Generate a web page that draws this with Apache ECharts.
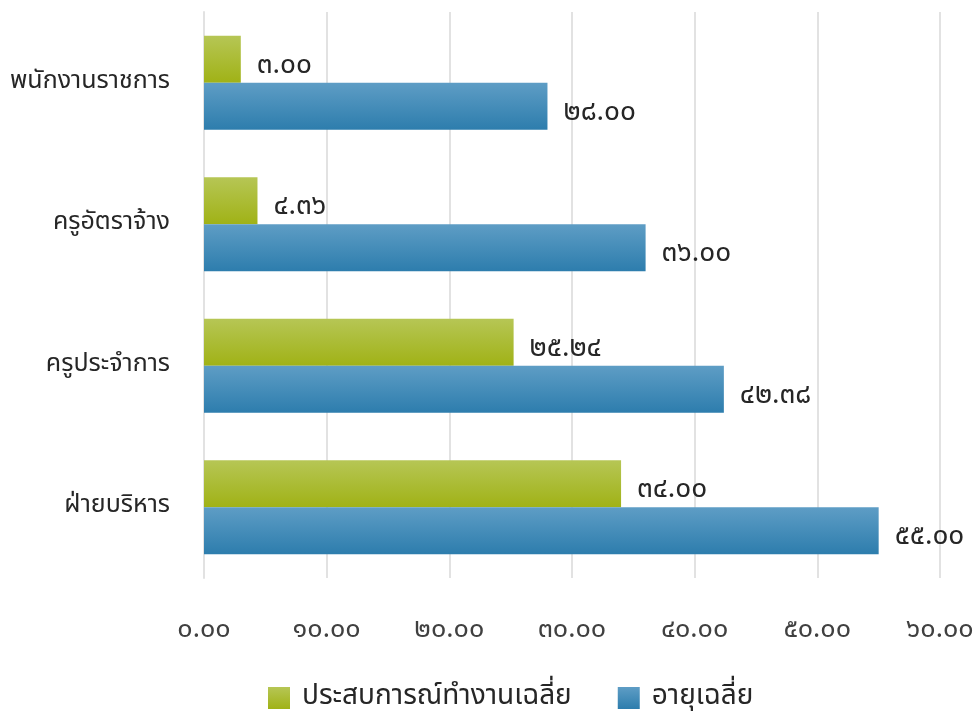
<!DOCTYPE html>
<html><head><meta charset="utf-8">
<script src="https://cdn.jsdelivr.net/npm/echarts@6/dist/echarts.min.js"></script>
<style>html,body{margin:0;padding:0;background:#fff}#c{width:980px;height:717px}</style>
</head><body><div id="c"></div>
<script>
const categories = ['พนักงานราชการ', 'ครูอัตราจ้าง', 'ครูประจำการ', 'ฝ่ายบริหาร'];
const experience = [3.00, 4.36, 25.24, 34.00];
const age = [28.00, 36.00, 42.38, 55.00];
const seriesNames = ['ประสบการณ์ทำงานเฉลี่ย', 'อายุเฉลี่ย'];
const tickValues = [0, 10, 20, 30, 40, 50, 60];

const thaiDigits = ['๐','๑','๒','๓','๔','๕','๖','๗','๘','๙'];
function toThai(v) { return v.toFixed(2).replace(/[0-9]/g, d => thaiDigits[+d]); }

const FONT = 'Tahoma, "Noto Sans Thai", "Noto Sans", sans-serif';
const chart = echarts.init(document.getElementById('c'));
const lbl = {
  show: true, position: 'right', distance: 16, offset: [0, 8],
  formatter: p => toThai(p.value), fontSize: 28, color: '#262626', fontFamily: FONT
};
chart.setOption({
  animation: false,
  textStyle: { fontFamily: FONT },
  grid: { left: 204, right: 40, top: 12, bottom: 139, containLabel: false },
  legend: {
    bottom: 0, left: 263, itemWidth: 22, itemHeight: 22, itemGap: 46,
    textStyle: { fontSize: 28, color: '#262626', fontFamily: FONT, padding: [0, 0, 0, 7] },
    data: seriesNames.map(n => ({ name: n, icon: 'rect' }))
  },
  xAxis: {
    type: 'value', min: tickValues[0], max: tickValues[tickValues.length - 1], interval: 10,
    axisLine: { show: false }, axisTick: { show: false },
    splitLine: { lineStyle: { color: '#e2e2e2', width: 2 } },
    axisLabel: { margin: 40, fontSize: 27, color: '#404040', fontFamily: FONT, formatter: v => toThai(v) }
  },
  yAxis: {
    type: 'category', inverse: true, data: categories,
    axisLine: { show: true, lineStyle: { color: '#e2e2e2', width: 2 } }, axisTick: { show: false },
    axisLabel: { margin: 34, fontSize: 25, color: '#262626', fontFamily: FONT }
  },
  series: [
    { name: seriesNames[0], type: 'bar', data: experience, barGap: '0%', barCategoryGap: '33.5%',
      itemStyle: { color: new echarts.graphic.LinearGradient(0, 0, 0, 1, [{ offset: 0, color: '#b6c655' }, { offset: 1, color: '#a0b216' }]) },
      label: lbl },
    { name: seriesNames[1], type: 'bar', data: age, barGap: '0%', barCategoryGap: '33.5%',
      itemStyle: { color: new echarts.graphic.LinearGradient(0, 0, 0, 1, [{ offset: 0, color: '#5e9dc5' }, { offset: 1, color: '#2d7dad' }]) },
      label: lbl }
  ]
});
</script></body></html>
